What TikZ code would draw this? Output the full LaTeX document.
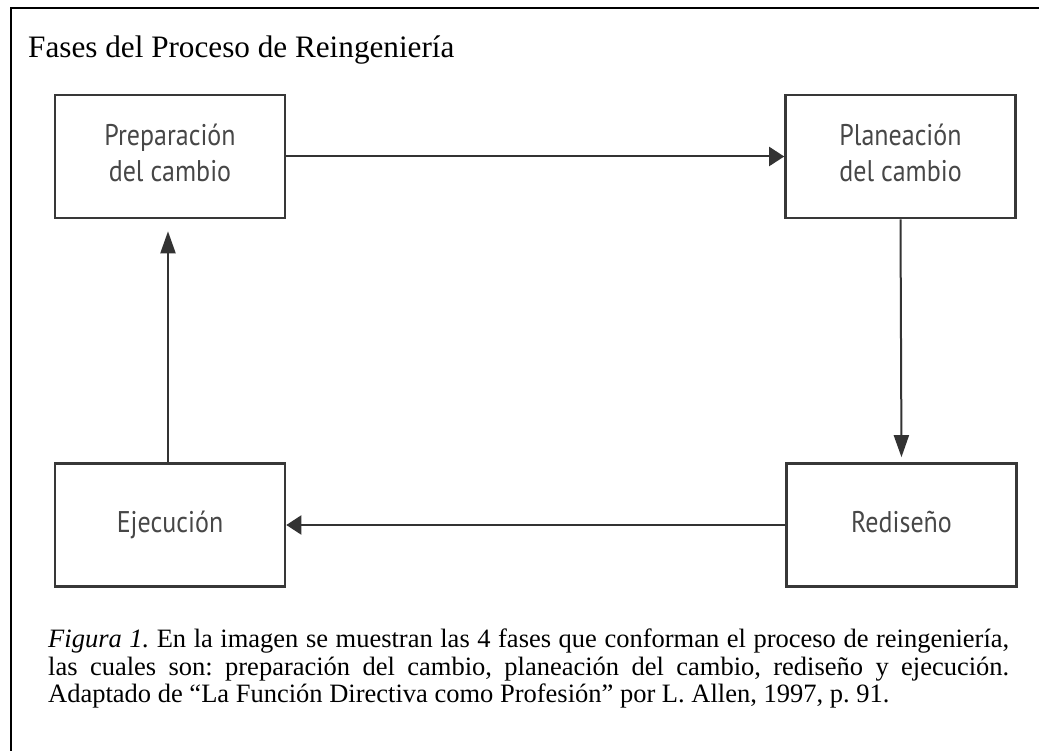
\documentclass[tikz,border=0pt]{standalone}
\usepackage{fontspec}
\setmainfont{Liberation Serif}
\newfontfamily\phasefont{PT Sans}
\usetikzlibrary{arrows.meta}
\frenchspacing

% phase labels are set a little taller than wide
\newcommand\phaselabel[1]{\scalebox{1}[1.15]{\begin{tabular}{@{}c@{}}#1\end{tabular}}}

\begin{document}
\begin{tikzpicture}[x=1pt,y=-1pt,
  phase/.style={draw=black!78, line width=2.6pt, minimum width=230pt,
    minimum height=123pt, inner sep=0pt, text=black!72,
    font=\phasefont\fontsize{26}{31.3}\selectfont},
  hflow/.style={draw=black!80, line width=2pt,
    -{Triangle[length=15pt,width=19pt]}},
  vflow/.style={draw=black!80, line width=2pt,
    -{Triangle[length=22pt,width=15pt]}},
  caption/.style={anchor=base west, inner sep=0pt,
    font=\fontsize{26.5}{27.5}\selectfont}]
\useasboundingbox (0,0) rectangle (1039,751);

% open frame: left and top rules
\draw[line width=2.4pt] (11,751) -- (11,8) -- (1039,8);

\node[anchor=base west, inner sep=0pt, font=\fontsize{31.2}{36}\selectfont]
  (title) at (28,58) {Fases del Proceso de Reingeniería};

% the four phases
\node[phase] (prep)  at (170,156.5) {\phaselabel{Preparación\\del cambio}};
\node[phase] (plan)  at (900.5,156.5) {\phaselabel{Planeación\\del cambio}};
\node[phase] (redis) at (901.5,525) {\phaselabel{Rediseño}};
\node[phase] (ejec)  at (170,525) {\phaselabel{Ejecución}};

% cycle of connectors
\draw[hflow] (prep.east) -- (plan.west);
\draw[vflow, shorten >=5pt] (plan.south) -- (redis.north);
\draw[hflow] (redis.west) -- (ejec.east);
\draw[vflow, shorten >=12pt] (ejec.north -| 168,0) -- (prep.south -| 168,0);

% caption
\node[caption] (cap1) at (48,647) {\makebox[961pt][s]{\textit{Figura 1.} En la imagen se muestran las 4 fases que conforman el proceso de reingeniería,}};
\node[caption] (cap2) at (48,675) {\makebox[961pt][s]{las cuales son: preparación del cambio, planeación del cambio, rediseño y ejecución.}};
\node[caption] (cap3) at (48,702) {Adaptado de “La Función Directiva como Profesión” por L. Allen, 1997, p. 91.};
\end{tikzpicture}
\end{document}
